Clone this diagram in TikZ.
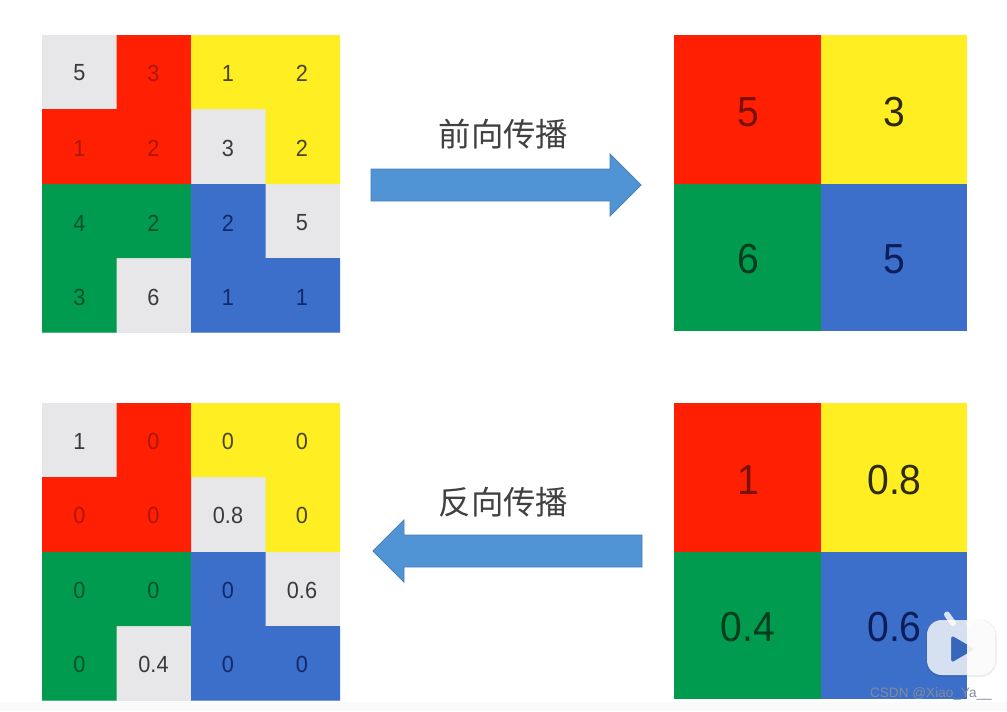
\documentclass[tikz,border=0pt]{standalone}
\usepackage{fontspec}
\setmainfont{Liberation Sans}
\newfontfamily\cjk{Noto Sans CJK SC}
\newfontfamily\digitfont[FakeStretch=0.93]{Liberation Sans}
\definecolor{cgray}{HTML}{E7E6E8}
\definecolor{cred}{HTML}{FF1F03}
\definecolor{cyel}{HTML}{FFEE22}
\definecolor{cgrn}{HTML}{009B4F}
\definecolor{cblu}{HTML}{3B6FC9}
\definecolor{carrow}{HTML}{5094D6}
\definecolor{carrowd}{HTML}{4A7FB5}
\definecolor{tgray}{HTML}{3A3A3C}
\definecolor{tred}{HTML}{B0150A}
\definecolor{tyel}{HTML}{4A4518}
\definecolor{tgrn}{HTML}{05512C}
\definecolor{tblu}{HTML}{12296B}
\definecolor{ured}{HTML}{7A1008}
\definecolor{uyel}{HTML}{2E2B0C}
\definecolor{ugrn}{HTML}{033D1E}
\definecolor{ublu}{HTML}{0B1D5A}
\definecolor{wmark}{HTML}{858A9A}
\tikzset{
  x=0.75pt,y=-0.75pt,
  small/.style={font=\digitfont\fontsize{17.5}{19}\selectfont,inner sep=0pt},
  big/.style={font=\digitfont\fontsize{31.5}{34}\selectfont,inner sep=0pt},
  blockarrow/.style={fill=carrow,draw=carrowd,line width=0.6pt},
  title/.style={font=\cjk\fontsize{24.3}{26}\selectfont,text=black!75,inner sep=0pt},
}
% #1 = y offset of the small grid
\newcommand{\gridfill}[1]{
  \begin{scope}[yshift=-#1*0.75pt]
  \fill[cgray] (42,35) rectangle (340,332.5);
  \fill[cred] (116.5,35) -- (191,35) -- (191,184) -- (42,184) -- (42,109) -- (116.5,109) -- cycle;
  \fill[cyel] (191,35) -- (340,35) -- (340,184) -- (265.5,184) -- (265.5,109) -- (191,109) -- cycle;
  \fill[cgrn] (42,184) -- (191,184) -- (191,258) -- (116.5,258) -- (116.5,332.5) -- (42,332.5) -- cycle;
  \fill[cblu] (191,184) -- (265.5,184) -- (265.5,258) -- (340,258) -- (340,332.5) -- (191,332.5) -- cycle;
  \end{scope}
}
\newcommand{\bigfill}[1]{
  \begin{scope}[yshift=-#1*0.75pt]
  \fill[cred] (674,35) rectangle (821,184);
  \fill[cyel] (821,35) rectangle (967,184);
  \fill[cgrn] (674,184) rectangle (821,331);
  \fill[cblu] (821,184) rectangle (967,331);
  \end{scope}
}
\begin{document}
\begin{tikzpicture}
\useasboundingbox (0,0) rectangle (1007,711);
\fill[white] (0,0) rectangle (1007,711);
\fill[black!2] (0,702) rectangle (1007,711);
\gridfill{0}
\gridfill{368}
\bigfill{0}
\bigfill{368}

% top-left grid
\node[small,text=tgray] (a11) at (79.5,73) {5};
\node[small,text=tred]  (a12) at (153.5,73) {3};
\node[small,text=tyel]  (a13) at (228,73) {1};
\node[small,text=tyel]  (a14) at (302,73) {2};
\node[small,text=tred]  (a21) at (79.5,148) {1};
\node[small,text=tred]  (a22) at (153.5,148) {2};
\node[small,text=tgray] (a23) at (228,148) {3};
\node[small,text=tyel]  (a24) at (302,148) {2};
\node[small,text=tgrn]  (a31) at (79.5,223) {4};
\node[small,text=tgrn]  (a32) at (153.5,223) {2};
\node[small,text=tblu]  (a33) at (228,223) {2};
\node[small,text=tgray] (a34) at (302,223) {5};
\node[small,text=tgrn]  (a41) at (79.5,297) {3};
\node[small,text=tgray] (a42) at (153.5,297) {6};
\node[small,text=tblu]  (a43) at (228,297) {1};
\node[small,text=tblu]  (a44) at (302,297) {1};

% bottom-left grid
\node[small,text=tgray] (b11) at (79.5,441.5) {1};
\node[small,text=tred]  (b12) at (153.5,441.5) {0};
\node[small,text=tyel]  (b13) at (228,441.5) {0};
\node[small,text=tyel]  (b14) at (302,441.5) {0};
\node[small,text=tred]  (b21) at (79.5,515) {0};
\node[small,text=tred]  (b22) at (153.5,515) {0};
\node[small,text=tgray] (b23) at (228,515) {0.8};
\node[small,text=tyel]  (b24) at (302,515) {0};
\node[small,text=tgrn]  (b31) at (79.5,590) {0};
\node[small,text=tgrn]  (b32) at (153.5,590) {0};
\node[small,text=tblu]  (b33) at (228,590) {0};
\node[small,text=tgray] (b34) at (302,590) {0.6};
\node[small,text=tgrn]  (b41) at (79.5,664) {0};
\node[small,text=tgray] (b42) at (153.5,664) {0.4};
\node[small,text=tblu]  (b43) at (228,664) {0};
\node[small,text=tblu]  (b44) at (302,664) {0};

% right grids
\node[big,text=ured] (c1) at (748,112) {5};
\node[big,text=uyel] (c2) at (894.5,112) {3};
\node[big,text=ugrn] (c3) at (748,259) {6};
\node[big,text=ublu] (c4) at (894.5,259) {5};
\node[big,text=ured] (d1) at (748,480) {1};
\node[big,text=uyel] (d2) at (894.5,480) {0.8};
\node[big,text=ugrn] (d3) at (748,627) {0.4};
\node[big,text=ublu] (d4) at (894.5,627) {0.6};

% arrows
\draw[blockarrow] (371,169) -- (610,169) -- (610,154) -- (641,185) -- (610,216) -- (610,201) -- (371,201) -- cycle;
\draw[blockarrow] (642,535) -- (404,535) -- (404,520) -- (373,551) -- (404,582) -- (404,567) -- (642,567) -- cycle;
\node[title] (t1) at (503.5,134) {前向传播};
\node[title] (t2) at (503.5,502) {反向传播};

% watermark
\fill[black,opacity=0.07,rounded corners=12pt] (926,619.5) rectangle (996.5,677);
\draw[white,opacity=0.8,line width=4.5pt,line cap=round] (947,614.5) -- (953,623);
\draw[white,opacity=0.8,line width=4.5pt,line cap=round] (975,614.5) -- (969,623);
\fill[white,opacity=0.8,even odd rule,rounded corners=11pt]
  (927,620) -- (995,620) -- (995,675) -- (927,675) -- cycle
  [rounded corners=2.5pt] (951,635) -- (975,649) -- (951,663) -- cycle;
\node[font=\fontsize{10.2}{11}\selectfont,text=wmark,anchor=east,inner sep=0pt] (wm) at (992,694) {CSDN @Xiao\_Ya\_\_};
\end{tikzpicture}
\end{document}
